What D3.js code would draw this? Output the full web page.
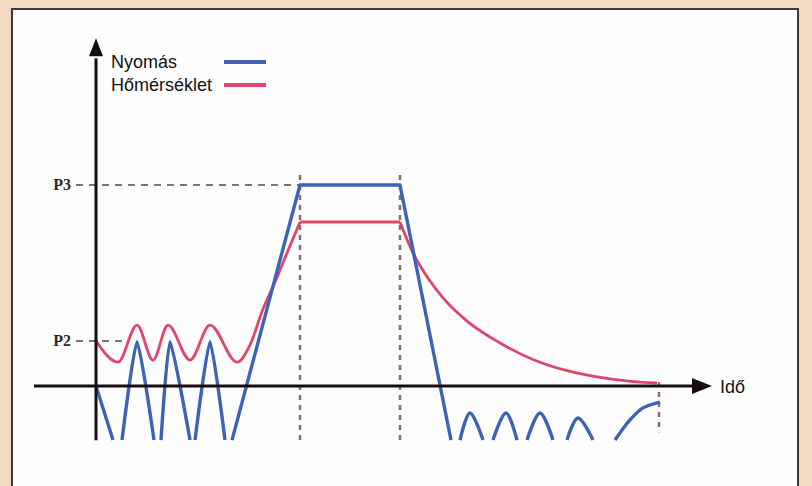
<!DOCTYPE html>
<html lang="hu">
<head>
<meta charset="utf-8">
<title>Nyomás és hőmérséklet</title>
<script src="https://cdn.jsdelivr.net/npm/d3@7"></script>
<style>
  html, body { margin: 0; padding: 0; background: #F2D9C1; }
  svg { display: block; }
</style>
</head>
<body>
<script>
var w = 812;
var h = 486;

// legend + level labels
var seriesNames = ["Nyomás", "Hőmérséklet"];
var seriesColors = ["#3D63B5", "#E2456B"];
var levelNames = ["P2", "P3"];
var levelValues = [22.4, 100];

// time marks (start/end of hold, end of cycle)
var holdTimes = [204, 304];
var endTime = 563;

// pressure, null = break where the curve leaves the picture at the bottom
var pressureWave = [
  [0, 0], [17, -26.9], null,
  [26, -26.9], [41, 22], [58, -26.9], null,
  [65, -26.9], [74, 22], [94, -26.9], null,
  [99, -26.9], [114, 22], [129, -26.9]
];
var pressureRamp = [[136, -26.9], [204, 100], [304, 100], [355, -26.9]];
var pressureBumps = [
  [364, -26.9], [374, -13.4], [387, -26.9], null,
  [397, -26.9], [410, -13.4], [421, -26.9], null,
  [431, -26.9], [444, -13.4], [457, -26.9], null,
  [471, -26.9], [482, -15.9], [497, -26.9], null,
  [519, -26.9], [534, -16.9], [547, -10.9], [564, -8]
];

// temperature
var tempWave = [
  [0, 22.4], [22, 11.9], [41, 30.3], [57, 12.9], [72, 30.3], [94, 12.9],
  [114, 30.3], [141, 11.9], [154, 20.4], [167, 38.3], [179, 51.7],
  [191, 66.2], [204, 81.6]
];
var tempHold = [[204, 81.6], [304, 81.6]];
var tempDecay = [
  [304, 81.6], [316, 67.2], [334, 52.2], [347, 43.8], [371, 32.3],
  [404, 21.4], [437, 13.2], [471, 7.6], [504, 4.3], [537, 2.2], [561, 1.5]
];

var svg = d3.select("body").append("svg")
  .attr("width", w)
  .attr("height", h);

// white panel
svg.append("rect")
  .attr("x", 12).attr("y", 9)
  .attr("width", 786).attr("height", 490)
  .attr("fill", "#FEFEFE")
  .attr("stroke", "#3a3a3a")
  .attr("stroke-width", 2);

var x = d3.scaleLinear().domain([0, 600]).range([96, 696]);
var y = d3.scaleLinear().domain([0, 100]).range([386, 185]);

var dashColor = "#85706f";

// level guides
svg.selectAll(".level")
  .data(levelValues)
  .enter()
  .append("line")
  .attr("class", "level")
  .attr("x1", x(-20))
  .attr("x2", function(d, i) { return i == 1 ? x(holdTimes[0]) : x(30); })
  .attr("y1", function(d) { return y(d); })
  .attr("y2", function(d) { return y(d); })
  .attr("stroke", dashColor)
  .attr("stroke-width", 2)
  .attr("stroke-dasharray", "7,6");

svg.selectAll(".levelLabel")
  .data(levelNames)
  .enter()
  .append("text")
  .attr("x", 71)
  .attr("y", function(d, i) { return y(levelValues[i]) + 5; })
  .attr("text-anchor", "end")
  .attr("font-family", "Liberation Serif, serif")
  .attr("font-weight", "bold")
  .attr("font-size", 16)
  .attr("fill", "#2a2a2a")
  .text(function(d) { return d; });

// time guides
svg.selectAll(".hold")
  .data(holdTimes)
  .enter()
  .append("line")
  .attr("x1", function(d) { return x(d); })
  .attr("x2", function(d) { return x(d); })
  .attr("y1", y(105))
  .attr("y2", y(-27))
  .attr("stroke", dashColor)
  .attr("stroke-width", 2.5)
  .attr("stroke-dasharray", "5,5");

svg.append("line")
  .attr("x1", x(endTime)).attr("x2", x(endTime))
  .attr("y1", y(2)).attr("y2", y(-23))
  .attr("stroke", dashColor)
  .attr("stroke-width", 2.5)
  .attr("stroke-dasharray", "5,5");

// curves
function lineWith(curve) {
  return d3.line()
    .defined(function(d) { return d !== null; })
    .x(function(d) { return x(d[0]); })
    .y(function(d) { return y(d[1]); })
    .curve(curve);
}
var soft = lineWith(d3.curveMonotoneX);
var tight = lineWith(d3.curveCardinal.tension(0.45));
var round = lineWith(d3.curveCatmullRom.alpha(0.5));
var straight = lineWith(d3.curveLinear);

function draw(data, gen, color, width) {
  svg.append("path")
    .attr("d", gen(data))
    .attr("fill", "none")
    .attr("stroke", color)
    .attr("stroke-width", width)
    .attr("stroke-linejoin", "round");
}

draw(tempWave, soft, seriesColors[1], 2.8);
draw(tempHold, straight, seriesColors[1], 2.8);
draw(tempDecay, soft, seriesColors[1], 2.8);

draw(pressureWave, tight, seriesColors[0], 3.4);
draw(pressureRamp, straight, seriesColors[0], 3.4);
draw(pressureBumps, round, seriesColors[0], 3.4);

// axes
var axisColor = "#160e0e";
svg.append("line")
  .attr("x1", x(-62)).attr("x2", x(598))
  .attr("y1", y(0)).attr("y2", y(0))
  .attr("stroke", axisColor).attr("stroke-width", 3);
svg.append("path")
  .attr("d", "M" + x(596) + "," + (y(0) - 8) + "L" + x(616) + "," + y(0) + "L" + x(596) + "," + (y(0) + 8) + "Z")
  .attr("fill", axisColor);

svg.append("line")
  .attr("x1", x(0)).attr("x2", x(0))
  .attr("y1", y(-27)).attr("y2", y(163))
  .attr("stroke", axisColor).attr("stroke-width", 3);
svg.append("path")
  .attr("d", "M" + (x(0) - 7) + "," + y(164) + "L" + x(0) + "," + y(173) + "L" + (x(0) + 7) + "," + y(164) + "Z")
  .attr("fill", axisColor);

svg.append("text")
  .attr("x", 720).attr("y", 393)
  .attr("font-family", "Liberation Sans, Arial, sans-serif")
  .attr("font-size", 18)
  .attr("fill", "#111")
  .text("Idő");

// legend
var legend = svg.selectAll(".legend")
  .data(seriesNames)
  .enter()
  .append("g")
  .attr("class", "legend")
  .attr("transform", function(d, i) { return "translate(0," + (i * 23) + ")"; });

legend.append("text")
  .attr("x", 111).attr("y", 68)
  .attr("font-family", "Liberation Sans, Arial, sans-serif")
  .attr("font-size", 18)
  .attr("fill", "#111")
  .text(function(d) { return d; });

legend.append("line")
  .attr("x1", 224).attr("x2", 266)
  .attr("y1", 62).attr("y2", 62)
  .attr("stroke", function(d, i) { return seriesColors[i]; })
  .attr("stroke-width", 4);
</script>
</body>
</html>
